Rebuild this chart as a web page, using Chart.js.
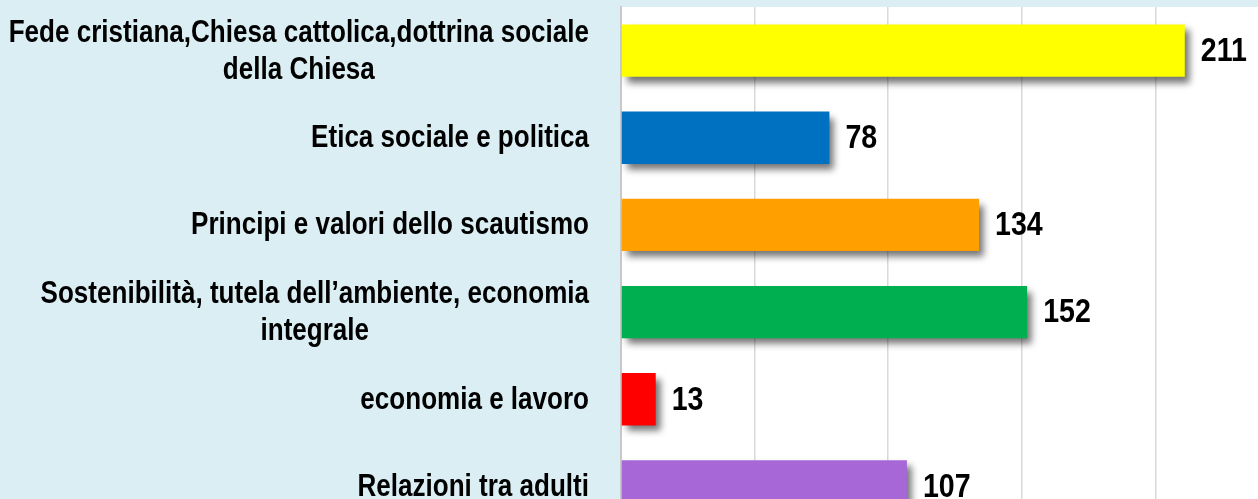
<!DOCTYPE html>
<html>
<head>
<meta charset="utf-8">
<script src="https://cdn.jsdelivr.net/npm/chart.js@4"></script>
<style>
  html, body { margin: 0; padding: 0; overflow: hidden; background: #DAEEF3; width: 1258px; height: 499px; }
  #wrap { position: absolute; left: 0; top: 0; width: 1289px; height: 530px; }
</style>
</head>
<body>
<div id="wrap"><canvas id="c"></canvas></div>
<script>
const categories = [
  ["Fede cristiana,Chiesa cattolica,dottrina sociale", "della Chiesa"],
  "Etica sociale e politica",
  "Principi e valori dello scautismo",
  ["Sostenibilità, tutela dell’ambiente, economia", "integrale"],
  "economia e lavoro",
  "Relazioni tra adulti"
];
const values = [211, 78, 134, 152, 13, 107];
const barColors = ["#FFFF00", "#0070C0", "#FFA000", "#00B050", "#FF0000", "#A867D7"];
const xMin = 0;
const xMax = 250;
const xStep = 50;

// Arial-Narrow look: Liberation Sans Bold condensed horizontally
const FONT = "'Liberation Sans', Arial, sans-serif";
const NARROW = 0.84;

function narrowText(ctx, text, x, y) {
  ctx.save();
  ctx.translate(x, y);
  ctx.scale(NARROW, 1);
  ctx.fillText(text, 0, 0);
  ctx.restore();
}

const bgPlugin = {
  id: 'plotBg',
  beforeDraw(chart) {
    const {ctx, chartArea: a} = chart;
    ctx.save();
    ctx.fillStyle = '#FFFFFF';
    ctx.fillRect(a.left, a.top, a.right - a.left, a.bottom - a.top);
    ctx.restore();
  }
};

const shadowPlugin = {
  id: 'barShadow',
  beforeDatasetsDraw(chart) {
    const ctx = chart.ctx;
    ctx.save();
    ctx.shadowColor = 'rgba(0,0,0,0.55)';
    ctx.shadowBlur = 7;
    ctx.shadowOffsetX = 5;
    ctx.shadowOffsetY = 6;
  },
  afterDatasetsDraw(chart) {
    chart.ctx.restore();
  }
};

const labelPlugin = {
  id: 'customLabels',
  afterDraw(chart) {
    const ctx = chart.ctx;
    const yScale = chart.scales.y;
    ctx.save();
    // category labels: block right-aligned, lines centered within block
    ctx.font = "bold 31px " + FONT;
    ctx.fillStyle = '#000000';
    ctx.textBaseline = 'middle';
    ctx.textAlign = 'center';
    const rightEdge = chart.chartArea.left - 32;
    const lh = 37;
    chart.data.labels.forEach((lab, i) => {
      const lines = Array.isArray(lab) ? lab : [lab];
      const y = yScale.getPixelForTick(i);
      let w = 0;
      lines.forEach(l => { w = Math.max(w, ctx.measureText(l).width * NARROW); });
      const cx = rightEdge - w / 2;
      const y0 = y - (lines.length - 1) * lh / 2 + 1;
      lines.forEach((l, k) => narrowText(ctx, l, cx, y0 + k * lh));
    });
    // value labels
    ctx.font = "bold 34px " + FONT;
    ctx.textAlign = 'left';
    const meta = chart.getDatasetMeta(0);
    meta.data.forEach((el, i) => {
      narrowText(ctx, String(chart.data.datasets[0].data[i]), el.x + 16, el.y + 1);
    });
    ctx.restore();
  }
};

new Chart(document.getElementById('c'), {
  type: 'bar',
  data: {
    labels: categories,
    datasets: [{
      data: values,
      backgroundColor: barColors,
      borderWidth: 0,
      categoryPercentage: 1.0,
      barPercentage: 0.6
    }]
  },
  plugins: [bgPlugin, shadowPlugin, labelPlugin],
  options: {
    indexAxis: 'y',
    responsive: true,
    maintainAspectRatio: false,
    animation: false,
    layout: { padding: { top: 7, right: 0, bottom: 0, left: 0 } },
    plugins: { legend: { display: false }, tooltip: { enabled: false } },
    scales: {
      x: {
        min: xMin, max: xMax,
        ticks: { display: false, stepSize: xStep },
        grid: { color: '#D9D9D9', lineWidth: 1.5, drawTicks: false },
        border: { display: false }
      },
      y: {
        ticks: { display: false },
        grid: { display: false, drawTicks: false },
        border: { display: true, color: '#C8C8C8', width: 2 },
        afterFit(scale) { scale.width = 621; }
      }
    }
  }
});
</script>
</body>
</html>
